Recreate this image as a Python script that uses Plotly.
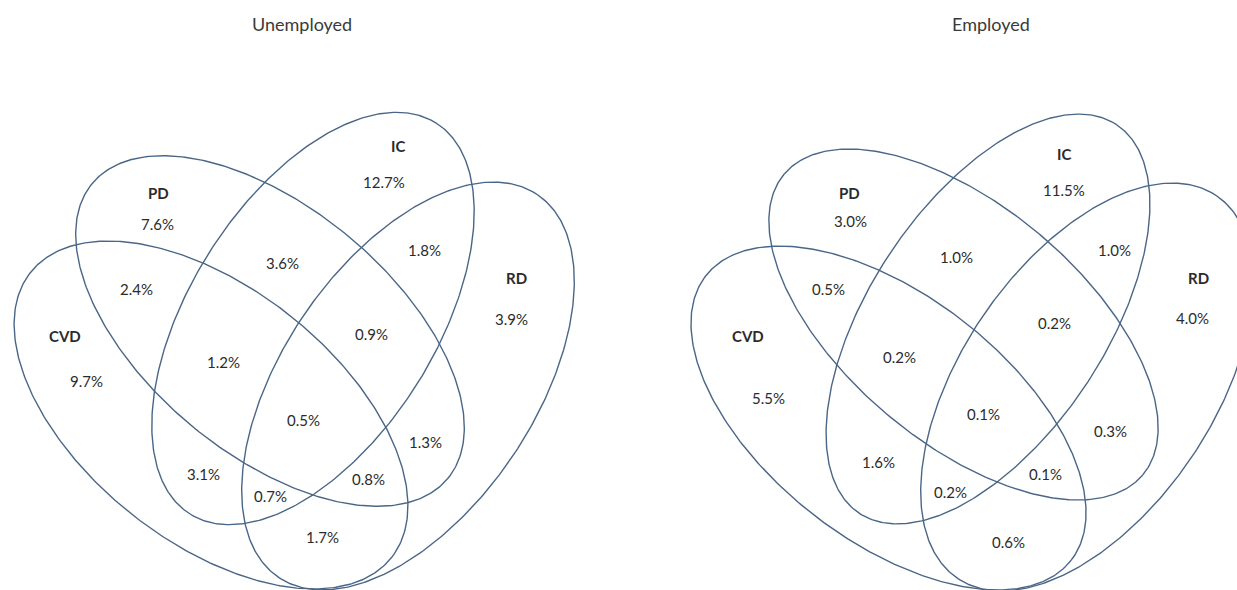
import numpy as np
import plotly.graph_objects as go

# ---------------- data ----------------
panel_titles = ["Unemployed", "Employed"]
set_names = ["CVD", "PD", "IC", "RD"]
region_keys = ["CVD", "PD", "IC", "RD",
               "CVD+PD", "PD+IC", "IC+RD", "PD+IC+RD", "CVD+PD+IC",
               "CVD+PD+IC+RD", "PD+RD", "CVD+IC", "CVD+PD+RD", "CVD+IC+RD", "CVD+RD"]
unemployed_pct = [9.7, 7.6, 12.7, 3.9, 2.4, 3.6, 1.8, 0.9, 1.2, 0.5, 1.3, 3.1, 0.8, 0.7, 1.7]
employed_pct = [5.5, 3.0, 11.5, 4.0, 0.5, 1.0, 1.0, 0.2, 0.2, 0.1, 0.3, 1.6, 0.1, 0.2, 0.6]
panel_values = [unemployed_pct, employed_pct]

# ---------------- layout geometry (pixels, y down) ----------------
W, H = 1237, 590
# (cx, cy, semi-major, semi-minor, angle deg; positive = major axis going down-right)
ellipse_geom = [
    {"CVD": (211, 415, 230, 127, 38.3), "PD": (270, 331, 231, 123, 39.7),
     "IC": (313, 318.5, 231, 123, -57.8), "RD": (408, 386, 231, 126, -55.9)},
    {"CVD": (888.5, 418, 231.5, 122.4, 37.9), "PD": (963.5, 324.5, 234, 118, 40.0),
     "IC": (988, 319, 233, 118, -56.5), "RD": (1087, 387, 231, 126, -55.9)},
]
title_pos = [(302, 24), (991, 24)]
set_label_pos = [
    {"CVD": (65, 336), "PD": (158, 193), "IC": (398, 146), "RD": (516, 278)},
    {"CVD": (748, 336), "PD": (849, 193), "IC": (1064, 154), "RD": (1198, 278)},
]
region_label_pos = [
    [(86, 381), (157, 224), (384, 182), (511, 319), (136, 289), (282, 263), (424, 250),
     (371, 334), (223, 362), (303, 420), (425, 442), (203, 474), (368, 479), (270, 496), (322, 537)],
    [(768, 398), (850, 221), (1064, 190), (1192, 318), (828, 289), (956, 257), (1114, 250),
     (1054, 323), (899, 357), (983, 414), (1110, 431), (878, 462), (1045, 474), (950, 492), (1008, 542)],
]

LINE_COLOR = "#4a6687"
TEXT_COLOR = "#2b2b2b"
FONT = "Lato"

fig = go.Figure()
t = np.linspace(0, 2 * np.pi, 400)
for p in range(2):
    for s in set_names:
        cx, cy, a, b, ang = ellipse_geom[p][s]
        th = np.deg2rad(ang)
        xs = cx + a * np.cos(t) * np.cos(th) - b * np.sin(t) * np.sin(th)
        ys = cy + a * np.cos(t) * np.sin(th) + b * np.sin(t) * np.cos(th)
        fig.add_trace(go.Scatter(x=xs, y=ys, mode="lines",
                                 line=dict(color=LINE_COLOR, width=1.4),
                                 hoverinfo="skip", showlegend=False))

annotations = []
for p in range(2):
    tx, ty = title_pos[p]
    annotations.append(dict(x=tx, y=ty, text=panel_titles[p], showarrow=False,
                            font=dict(family=FONT, size=18, color="#3a3a3a"),
                            xanchor="center", yanchor="middle"))
    for s in set_names:
        lx, ly = set_label_pos[p][s]
        annotations.append(dict(x=lx, y=ly, text="<b>" + s + "</b>", showarrow=False,
                                font=dict(family=FONT, size=15, color=TEXT_COLOR),
                                xanchor="center", yanchor="middle"))
    for k, v in enumerate(panel_values[p]):
        lx, ly = region_label_pos[p][k]
        annotations.append(dict(x=lx, y=ly, text=f"{v:.1f}%", showarrow=False,
                                font=dict(family=FONT, size=15, color=TEXT_COLOR),
                                xanchor="center", yanchor="middle"))

fig.update_layout(
    width=W, height=H,
    margin=dict(l=0, r=0, t=0, b=0),
    paper_bgcolor="white", plot_bgcolor="white",
    xaxis=dict(range=[0, W], visible=False, fixedrange=True),
    yaxis=dict(range=[H, 0], visible=False, fixedrange=True),
    annotations=annotations,
    showlegend=False,
)

fig.write_html("out.html", config={"displayModeBar": False},
               post_script="document.body.style.margin='0';")
